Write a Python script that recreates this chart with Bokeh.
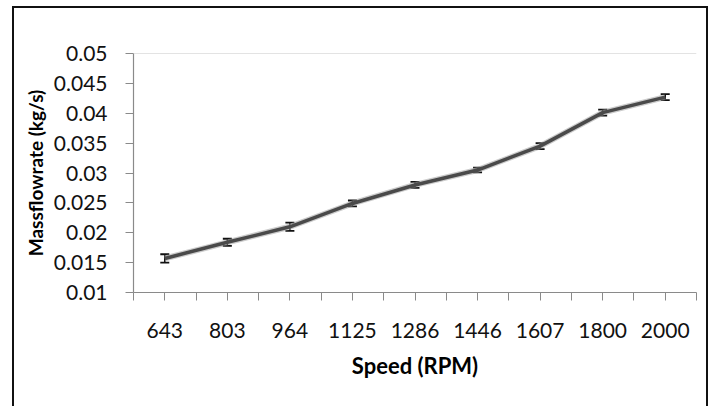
from bokeh.plotting import figure
from bokeh.models import Range1d, FixedTicker, Whisker, ColumnDataSource, TeeHead, Span
from bokeh.embed import file_html
from bokeh.resources import INLINE

speeds = ["643", "803", "964", "1125", "1286", "1446", "1607", "1800", "2000"]
massflow = [0.0157, 0.0184, 0.0210, 0.0249, 0.0280, 0.0305, 0.0345, 0.0401, 0.0427]
err = [0.0007, 0.0006, 0.0007, 0.0005, 0.0005, 0.0004, 0.0005, 0.0005, 0.0005]
y_ticks = [0.01, 0.015, 0.02, 0.025, 0.03, 0.035, 0.04, 0.045, 0.05]
y_tick_labels = ["0.01", "0.015", "0.02", "0.025", "0.03", "0.035", "0.04", "0.045", "0.05"]

xs = list(range(1, len(speeds) + 1))
src = ColumnDataSource(dict(
    x=xs, y=massflow,
    upper=[m + e for m, e in zip(massflow, err)],
    lower=[m - e for m, e in zip(massflow, err)],
))

FONT = "Lato"

p = figure(width=696, height=400, output_backend="svg", toolbar_location=None,
           x_range=Range1d(0.5, len(speeds) + 0.5), y_range=Range1d(0.01, 0.05),
           min_border_left=119, min_border_right=14, min_border_top=45, min_border_bottom=116)
p.styles = {"margin-left": "12px", "margin-top": "6px",
            "border-top": "2px solid #111", "border-left": "2px solid #111",
            "border-right": "2px solid #111"}
p.outline_line_color = None
p.xgrid.visible = False
p.ygrid.visible = False
p.background_fill_color = "white"
p.border_fill_color = "white"

p.add_layout(Span(location=0.05, dimension="width", line_color="#c8c8c8", line_width=1))

half_ticks = [i / 2 for i in range(1, 2 * len(speeds) + 2)]
p.xaxis.ticker = FixedTicker(ticks=half_ticks)
p.xaxis.major_label_overrides = {t: (speeds[int(t) - 1] if float(t).is_integer() else "") for t in half_ticks}
p.yaxis.ticker = FixedTicker(ticks=y_ticks)
p.yaxis.major_label_overrides = {t: l for t, l in zip(y_ticks, y_tick_labels)}

for ax in (p.xaxis, p.yaxis):
    ax.axis_line_color = "#8a8a8a"
    ax.axis_line_width = 1.2
    ax.major_tick_line_color = "#8a8a8a"
    ax.major_tick_in = 0
    ax.major_tick_out = 8
    ax.minor_tick_line_color = None
    ax.major_label_text_font = FONT
    ax.major_label_text_font_size = "21px"
    ax.major_label_text_color = "#111"
    ax.axis_label_text_font = FONT
    ax.axis_label_text_font_style = "bold"
    ax.axis_label_text_color = "#000"

p.xaxis.axis_label_text_font_size = "22px"
p.yaxis.axis_label_text_font_size = "19px"
p.xaxis.major_label_standoff = 22
p.yaxis.major_label_standoff = 18
p.xaxis.axis_label = "Speed (RPM)"
p.yaxis.axis_label = "Massflowrate (kg/s)"
p.xaxis.axis_label_standoff = 11
p.yaxis.axis_label_standoff = 4

p.line("x", "y", source=src, line_color="#9a9a9a", line_width=6, line_alpha=0.5)
p.line("x", "y", source=src, line_color="#4a4a4a", line_width=3.5)
p.add_layout(Whisker(base="x", upper="upper", lower="lower", source=src,
                     line_color="#111", line_width=1.5,
                     upper_head=TeeHead(size=9, line_color="#111", line_width=1.8),
                     lower_head=TeeHead(size=9, line_color="#111", line_width=1.8)))

open("out.html", "w").write(file_html(p, INLINE))
